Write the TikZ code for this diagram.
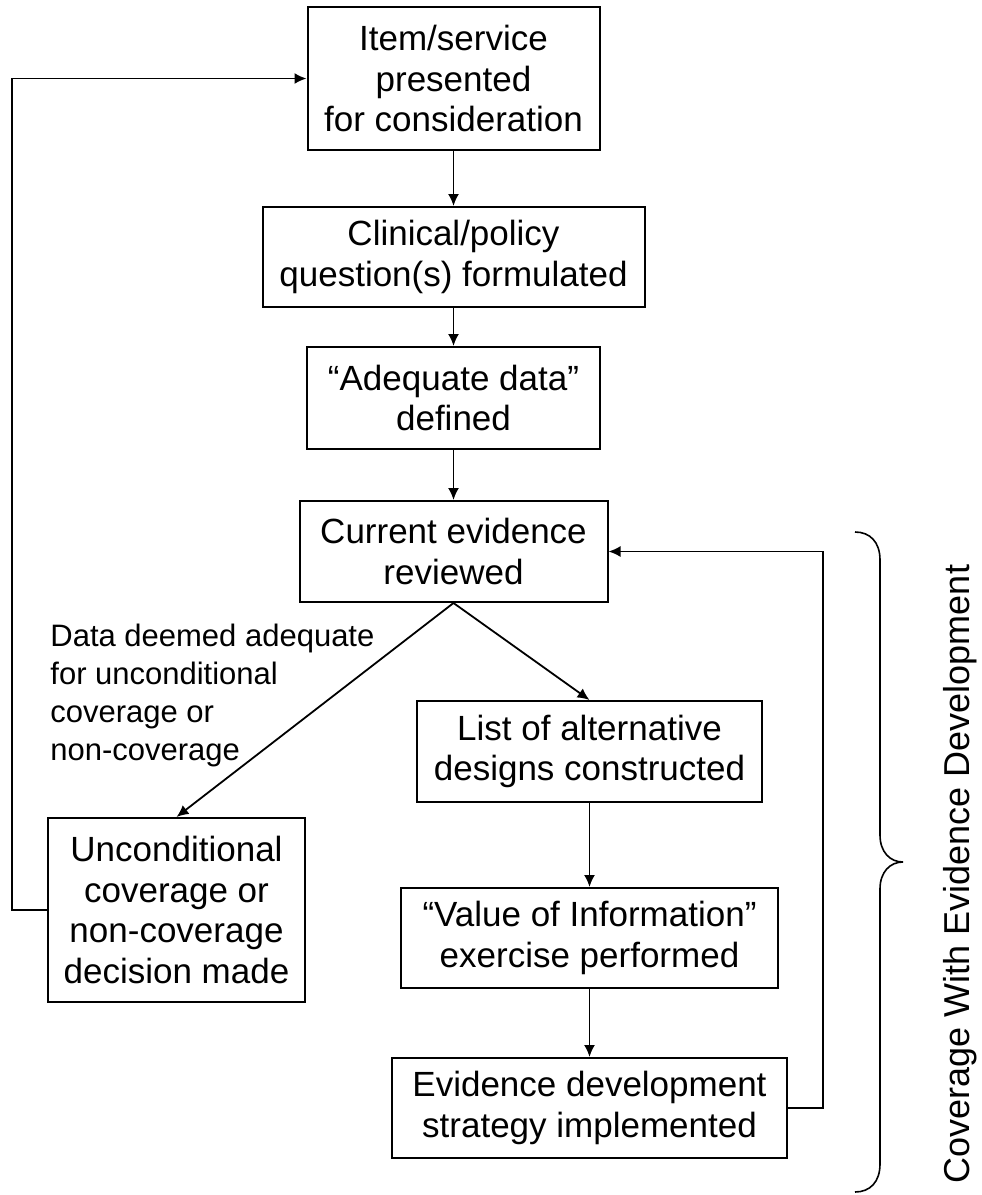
\documentclass[tikz,border=0pt]{standalone}
\usepackage{fontspec}
\setmainfont{Liberation Sans}
\usetikzlibrary{arrows.meta}

\begin{document}
\begin{tikzpicture}[x=0.5pt, y=-0.5pt,
        box/.style={draw, line width=1pt, align=center, inner sep=0pt,
            font=\fontsize{17.5pt}{20.25pt}\selectfont},
        link/.style={line width=0.9pt, -{Latex[length=6pt,width=5.5pt]}}]
        % Fix the page size
        \useasboundingbox (0,0) rectangle (981,1195);
        % Draw the main column of boxes
        \node[box, minimum width=146pt, minimum height=71.5pt] (item) at (453.5,78.5) {Item/service\\presented\\for consideration};
        \node[box, minimum width=191pt, minimum height=50pt] (question) at (453.5,257) {Clinical/policy\\question(s) formulated};
        \node[box, minimum width=146.5pt, minimum height=51pt] (define) at (453.5,398) {``Adequate data''\\defined};
        \node[box, minimum width=154pt, minimum height=50.5pt] (review) at (453.5,551.5) {Current evidence\\reviewed};
        % Draw the two branches
        \node[box, minimum width=128.5pt, minimum height=92pt] (decision) at (176.5,910) {Unconditional\\coverage or\\non-coverage\\decision made};
        \node[box, minimum width=172.5pt, minimum height=50.5pt] (designs) at (589.5,751.5) {List of alternative\\designs constructed};
        \node[box, minimum width=188.5pt, minimum height=50pt] (voi) at (589.5,938) {``Value of Information''\\exercise performed};
        \node[box, minimum width=197.5pt, minimum height=50pt] (strategy) at (589.5,1108) {Evidence development\\strategy implemented};
        % Label on the left branch
        \node[anchor=north west, align=left, inner sep=0pt, font=\fontsize{15.5pt}{19pt}\selectfont] (deemed) at (50,624) {Data deemed adequate\\for unconditional\\coverage or\\non-coverage};
        % Draw the arrows
        \draw[link] (item.south) -- (question.north);
        \draw[link] (question.south) -- (define.north);
        \draw[link] (define.south) -- (review.north);
        \draw[link] (review.south) -- (decision.north);
        \draw[link] (review.south) -- (designs.north);
        \draw[link] (designs.south) -- (voi.north);
        \draw[link] (voi.south) -- (strategy.north);
        % Feedback loops
        \draw[link] (decision.west) -- ++(-35,0) |- (item.west);
        \draw[link] (strategy.east) -- ++(35,0) |- (review.east);
        % Brace and its text
        \draw[line width=0.8pt] (855,532) .. controls (870,532) and (880,542) .. (880,560) -- (880,835)
            .. controls (880,852) and (890,862) .. (903,862) .. controls (890,862) and (880,872) .. (880,889)
            -- (880,1164) .. controls (880,1182) and (870,1192) .. (855,1192);
        \node[rotate=90, anchor=base, inner sep=0pt, font=\fontsize{18pt}{21pt}\selectfont] (cwed) at (969,874) {Coverage With Evidence Development};
\end{tikzpicture}
\end{document}
